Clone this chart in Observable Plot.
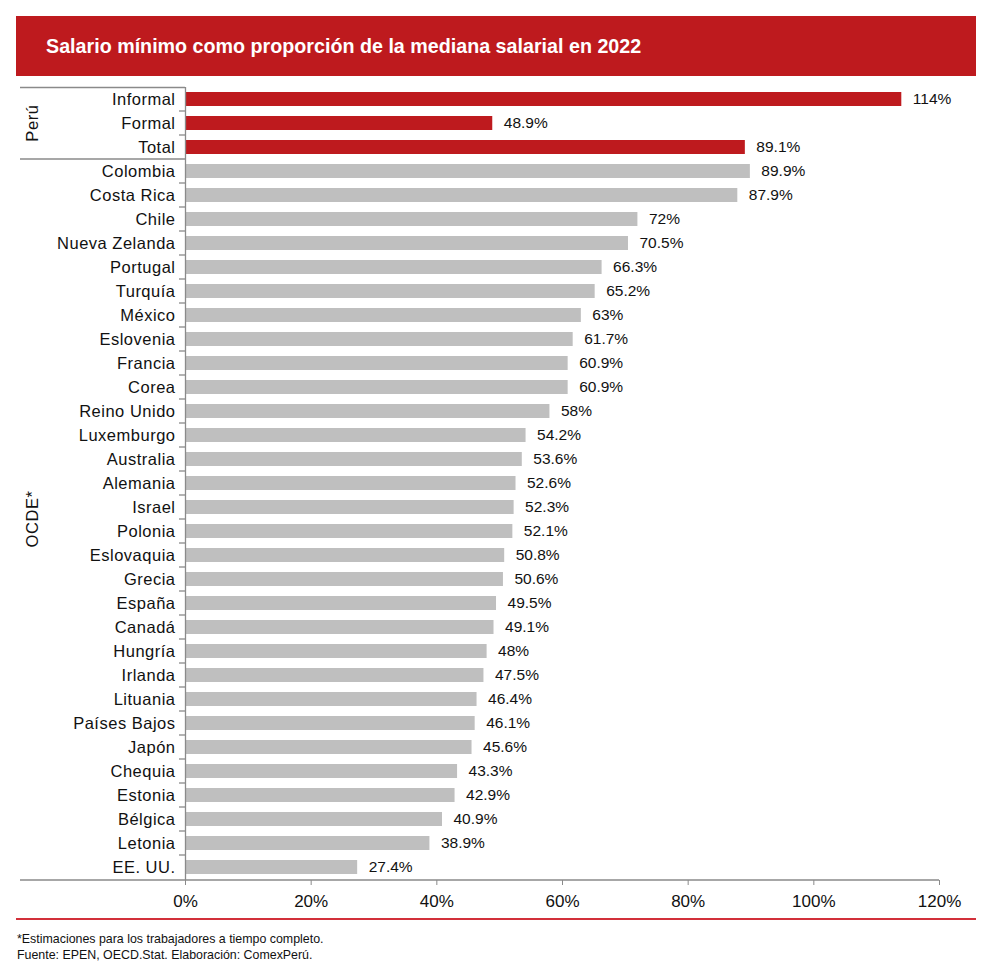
<!DOCTYPE html>
<html>
<head>
<meta charset="utf-8">
<script src="https://cdn.jsdelivr.net/npm/d3@7"></script>
<script src="https://cdn.jsdelivr.net/npm/@observablehq/plot@0.6"></script>
<style>
  html, body { margin: 0; padding: 0; background: #fff; }
  body { width: 996px; height: 975px; position: relative; font-family: "Liberation Sans", Arial, sans-serif; }
  #title { position: absolute; left: 16px; top: 16px; width: 960px; height: 60px; background: #BE1A1E;
           color: #fff; font-weight: bold; font-size: 19.7px; line-height: 60px; box-sizing: border-box; padding-left: 30px; }
  #chart { position: absolute; left: 0; top: 76px; }
  #rule { position: absolute; left: 16px; top: 918px; width: 960px; height: 2px; background: #D2303A; }
  #foot { position: absolute; left: 17px; top: 931px; font-size: 12.4px; line-height: 16px; color: #111; }
</style>
</head>
<body>
<div id="title">Salario mínimo como proporción de la mediana salarial en 2022</div>
<div id="chart"></div>
<div id="rule"></div>
<div id="foot">*Estimaciones para los trabajadores a tiempo completo.<br>Fuente: EPEN, OECD.Stat. Elaboración: ComexPerú.</div>
<script>
const peruCats = ["Informal", "Formal", "Total"];
const peruVals = [114, 48.9, 89.1];
const ocdeCats = ["Colombia", "Costa Rica", "Chile", "Nueva Zelanda", "Portugal", "Turquía", "México", "Eslovenia",
  "Francia", "Corea", "Reino Unido", "Luxemburgo", "Australia", "Alemania", "Israel", "Polonia", "Eslovaquia",
  "Grecia", "España", "Canadá", "Hungría", "Irlanda", "Lituania", "Países Bajos", "Japón", "Chequia", "Estonia",
  "Bélgica", "Letonia", "EE. UU."];
const ocdeVals = [89.9, 87.9, 72, 70.5, 66.3, 65.2, 63, 61.7, 60.9, 60.9, 58, 54.2, 53.6, 52.6, 52.3, 52.1, 50.8,
  50.6, 49.5, 49.1, 48, 47.5, 46.4, 46.1, 45.6, 43.3, 42.9, 40.9, 38.9, 27.4];
const groupNames = ["Perú", "OCDE*"];
const xTicks = [0, 20, 40, 60, 80, 100, 120];

const RED = "#BE1A1E", GRAY = "#BFBFBF", AXIS = "#8A8A8A";

const rows = [
  ...peruCats.map((c, i) => ({cat: c, value: peruVals[i], group: groupNames[0]})),
  ...ocdeCats.map((c, i) => ({cat: c, value: ocdeVals[i], group: groupNames[1]}))
];
const cats = rows.map(d => d.cat);

const chart = Plot.plot({
  width: 996,
  height: 836,
  marginTop: 11,
  marginBottom: 32,
  marginLeft: 185,
  marginRight: 57,
  style: {fontFamily: "'Liberation Sans', Arial, sans-serif", color: "#111", background: "transparent"},
  x: {domain: [0, 120], label: null},
  y: {domain: cats, paddingInner: 0.4, paddingOuter: 0.2, axis: null, label: null},
  color: {domain: groupNames, range: [RED, GRAY]},
  marks: [
    Plot.barX(rows, {x: "value", y: "cat", fill: "group"}),
    Plot.text(rows, {x: "value", y: "cat", text: d => d.value + "%", dx: 11, textAnchor: "start",
      fontSize: 15.5, fill: "#111"}),
    Plot.axisY({tickSize: 0, tickPadding: 10, fontSize: 16.5, fill: "#111", textAnchor: "end", label: null}),
    Plot.axisX({ticks: xTicks, tickFormat: d => d + "%", tickSize: 5, tickPadding: 9, fontSize: 17,
      stroke: AXIS, fill: "#111", label: null}),
    Plot.ruleX([0], {stroke: AXIS, strokeWidth: 1.3})
  ]
});
document.getElementById("chart").appendChild(chart);

// decorations built from the scales
const svg = d3.select(chart);
const ys = chart.scale("y"), xs = chart.scale("x");
const [yTop, yBot] = ys.range;
const x0 = xs.apply(0);
const leftEdge = 20;
const g = svg.append("g").attr("stroke", AXIS).attr("stroke-width", 1.3);
// top bracket line
g.append("line").attr("x1", leftEdge).attr("x2", x0).attr("y1", yTop + 0.5).attr("y2", yTop + 0.5);
// bottom axis line
g.append("line").attr("x1", leftEdge).attr("x2", xs.apply(120)).attr("y1", yBot).attr("y2", yBot);
// category boundaries
for (let i = 0; i < cats.length - 1; i++) {
  const yb = ys.apply(cats[i]) + ys.bandwidth + (ys.step - ys.bandwidth) / 2;
  const isGroupEdge = rows[i].group !== rows[i + 1].group;
  g.append("line").attr("x1", isGroupEdge ? leftEdge : x0 - 6).attr("x2", x0)
    .attr("y1", yb).attr("y2", yb);
}
// group labels
for (const name of groupNames) {
  const gc = rows.filter(d => d.group === name).map(d => ys.apply(d.cat) + ys.bandwidth / 2);
  const yc = (d3.min(gc) + d3.max(gc)) / 2;
  svg.append("text").attr("transform", `translate(32,${yc}) rotate(-90)`)
    .attr("text-anchor", "middle").attr("dominant-baseline", "central")
    .attr("font-size", 16.5).attr("fill", "#111").attr("letter-spacing", "0.6px")
    .text(name);
}
// slight horizontal widening of category labels, as in the reference
svg.selectAll("g[aria-label='y-axis tick label'] text").attr("letter-spacing", "0.5px");
</script>
</body>
</html>
